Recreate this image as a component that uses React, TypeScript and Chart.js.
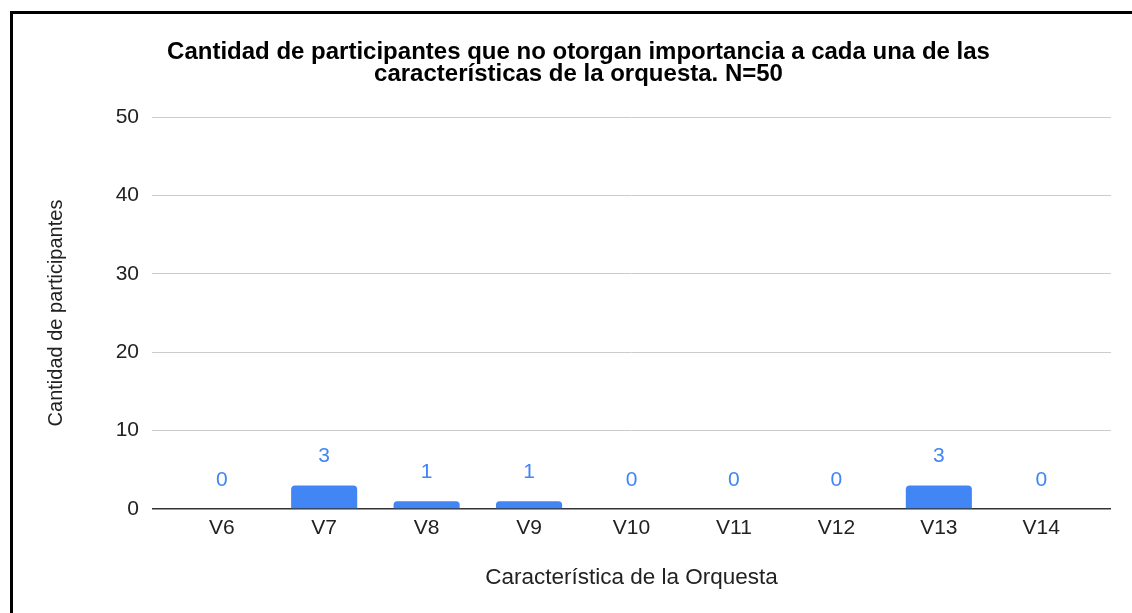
import React, { useEffect, useRef } from "react";
import { Chart, registerables } from "chart.js";

Chart.register(...registerables);

const categories = ["V6", "V7", "V8", "V9", "V10", "V11", "V12", "V13", "V14"];
const values = [0, 3, 1, 1, 0, 0, 0, 3, 0];
const titleLines = [
  "Cantidad de participantes que no otorgan importancia a cada una de las",
  "características de la orquesta. N=50",
];
const xTitle = "Característica de la Orquesta";
const yTitle = "Cantidad de participantes";
const yMax = 50;
const yStep = 10;

const FONT = "'Liberation Sans', Arial, sans-serif";
const BLUE = "#4285F4";
const X_INSET = 18.5;

const dataLabelPlugin = {
  id: "dataLabels",
  afterDatasetsDraw(chart: any) {
    const ctx = chart.ctx;
    const meta = chart.getDatasetMeta(0);
    ctx.save();
    ctx.font = `21px ${FONT}`;
    ctx.fillStyle = BLUE;
    ctx.textAlign = "center";
    ctx.textBaseline = "alphabetic";
    meta.data.forEach((el: any, i: number) => {
      ctx.fillText(String(values[i]), el.x, el.y - 23);
    });
    ctx.restore();
  },
};

const insetXPlugin = {
  id: "insetX",
  afterLayout(chart: any) {
    const s = chart.scales.x;
    s.left = chart.chartArea.left + X_INSET;
    s.right = chart.chartArea.right - X_INSET;
    s.width = s.right - s.left;
    s.configure();
    s._labelItems = null;
  },
};

export default function App() {
  const ref = useRef<HTMLCanvasElement>(null);
  useEffect(() => {
    document.body.style.margin = "0";
    document.body.style.background = "#fff";
    const chart = new Chart(ref.current!, {
      type: "bar",
      data: {
        labels: categories,
        datasets: [
          {
            data: values,
            backgroundColor: BLUE,
            borderRadius: 4,
            borderSkipped: "start",
            barPercentage: 0.645,
            categoryPercentage: 1,
          },
        ],
      },
      options: {
        responsive: false,
        animation: false,
        layout: { padding: { left: 46, right: 21, top: 0, bottom: 0 } },
        plugins: {
          legend: { display: false },
          tooltip: { enabled: false },
          title: {
            display: true,
            text: titleLines,
            color: "#000",
            font: { family: FONT, size: 24, weight: "bold", lineHeight: 0.9167 },
            padding: { top: 41.5, bottom: 31.5 },
          },
        },
        scales: {
          x: {
            grid: { display: false, drawTicks: false },
            border: { display: false },
            ticks: { color: "#222", font: { family: FONT, size: 21 }, padding: 7 },
            title: {
              display: true,
              text: xTitle,
              color: "#222",
              font: { family: FONT, size: 22.5 },
              padding: { top: 0, bottom: 22 },
            },
            afterFit: (s: any) => {
              s.height = 104;
            },
          },
          y: {
            min: 0,
            max: yMax,
            ticks: { stepSize: yStep, color: "#222", font: { family: FONT, size: 21 }, padding: 13 },
            grid: {
              drawTicks: false,
              color: (c: any) => (c.tick && c.tick.value === 0 ? "#333" : "#ccc"),
              lineWidth: (c: any) => (c.tick && c.tick.value === 0 ? 1.5 : 1),
            },
            border: { display: false },
            title: {
              display: true,
              text: yTitle,
              color: "#222",
              font: { family: FONT, size: 20, lineHeight: 0.8 },
              padding: { top: 2, bottom: 0 },
            },
            afterFit: (s: any) => {
              s.width = 106;
            },
          },
        },
      },
      plugins: [insetXPlugin, dataLabelPlugin],
    });
    return () => chart.destroy();
  }, []);
  return (
    <div style={{ position: "relative", width: 1132, height: 613, overflow: "hidden", background: "#fff" }}>
      <canvas ref={ref} width={1132} height={613} style={{ display: "block" }} />
      <div
        style={{
          position: "absolute",
          left: 10,
          top: 11,
          width: 2000,
          height: 2000,
          borderLeft: "3px solid #000",
          borderTop: "3px solid #000",
          pointerEvents: "none",
        }}
      />
    </div>
  );
}
